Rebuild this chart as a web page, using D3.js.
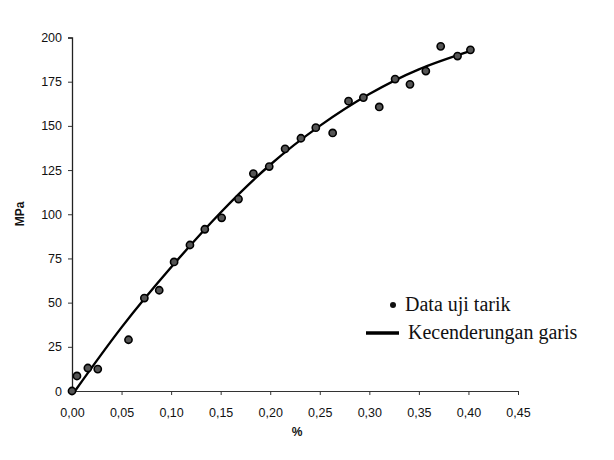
<!DOCTYPE html>
<html lang="en">
<head>
<meta charset="UTF-8">
<title>Data uji tarik</title>
<script src="https://d3js.org/d3.v7.min.js"></script>
<style>
  body { margin: 0; background: #fff; }
  svg { background: #fff; }
  .tick text { font-family: Arial, "Liberation Sans", sans-serif; font-size: 12.5px; fill: #111; }
  .axis-title { font-family: Arial, "Liberation Sans", sans-serif; font-size: 12px; font-weight: bold; fill: #111; }
  .legend { font-family: "Liberation Serif", "Times New Roman", serif; font-size: 20px; fill: #111; }
</style>
</head>
<body>
<svg width="614" height="460"></svg>
<script>
// strain (%) and stress (MPa)
const strain = [0.000, 0.005, 0.016, 0.026, 0.057, 0.073, 0.088, 0.103, 0.119, 0.134, 0.151,
                0.168, 0.183, 0.199, 0.215, 0.231, 0.246, 0.263, 0.279, 0.294, 0.310, 0.326,
                0.341, 0.357, 0.372, 0.389, 0.402];
const stress = [0, 8.5, 13, 12.4, 29, 52.6, 57, 73, 82.6, 91.5, 98,
                108.6, 123, 127, 137, 143, 149, 146, 164, 166, 160.7, 176.5,
                173.5, 181, 195, 189.5, 193];

// trend line
const trendX = [0.003, 0.05, 0.10, 0.15, 0.20, 0.25, 0.30, 0.35, 0.40];
const trendY = [0, 36, 70, 101, 128, 150, 168, 182, 192];

const xTicks = [0, 0.05, 0.10, 0.15, 0.20, 0.25, 0.30, 0.35, 0.40, 0.45];
const yTicks = [0, 25, 50, 75, 100, 125, 150, 175, 200];

const svg = d3.select("svg");
const x = d3.scaleLinear().domain([0, 0.45]).range([72, 518]);
const y = d3.scaleLinear().domain([0, 200]).range([391, 37.5]);

const fmt = d3.format(".2f");

// x axis
svg.append("g")
  .attr("transform", "translate(0,391)")
  .call(d3.axisBottom(x).tickValues(xTicks).tickSize(4).tickPadding(13)
    .tickFormat(d => fmt(d).replace(".", ",")))
  .call(g => g.select(".domain").attr("stroke", "#333"))
  .call(g => g.selectAll(".tick line").attr("stroke", "#333"));

// y axis
svg.append("g")
  .attr("transform", "translate(72,0)")
  .call(d3.axisLeft(y).tickValues(yTicks).tickSize(4).tickPadding(6))
  .call(g => g.select(".domain").attr("stroke", "#222").attr("stroke-width", 1.3))
  .call(g => g.selectAll(".tick line").attr("stroke", "#333"));

// axis titles
svg.append("text")
  .attr("class", "axis-title")
  .attr("transform", "translate(24,214) rotate(-90)")
  .attr("text-anchor", "middle")
  .text("MPa");

svg.append("text")
  .attr("class", "axis-title")
  .attr("x", 297)
  .attr("y", 436)
  .attr("text-anchor", "middle")
  .text("%");

// trend line
const line = d3.line()
  .x(d => x(d[0]))
  .y(d => y(d[1]))
  .curve(d3.curveNatural);

svg.append("path")
  .datum(trendX.map((v, i) => [v, trendY[i]]))
  .attr("d", line)
  .attr("fill", "none")
  .attr("stroke", "#000")
  .attr("stroke-width", 2.4);

// data points
svg.selectAll(".pt")
  .data(strain.map((v, i) => [v, stress[i]]))
  .join("circle")
  .attr("class", "pt")
  .attr("cx", d => x(d[0]))
  .attr("cy", d => y(d[1]))
  .attr("r", 3.6)
  .attr("fill", "#555")
  .attr("stroke", "#000")
  .attr("stroke-width", 1.6);

// legend
svg.append("circle")
  .attr("cx", 393).attr("cy", 305).attr("r", 3)
  .attr("fill", "#111");
svg.append("text")
  .attr("class", "legend")
  .attr("x", 405).attr("y", 311)
  .text("Data uji tarik");

svg.append("line")
  .attr("x1", 366).attr("x2", 399)
  .attr("y1", 333).attr("y2", 333)
  .attr("stroke", "#000").attr("stroke-width", 3.5);
svg.append("text")
  .attr("class", "legend")
  .attr("x", 408).attr("y", 339)
  .text("Kecenderungan garis");
</script>
</body>
</html>
